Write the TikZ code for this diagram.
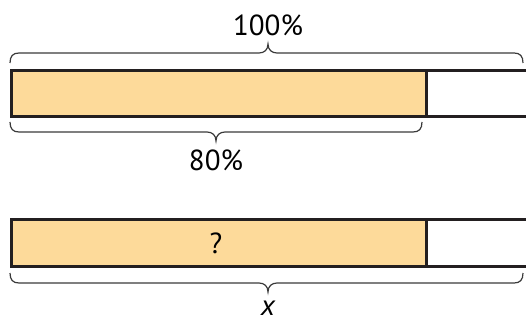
\documentclass[tikz,border=0pt]{standalone}
\usepackage{fontspec}
\setmainfont{PT Sans}
\definecolor{barfill}{HTML}{FDDA9A}
\definecolor{ink}{HTML}{231F20}
\definecolor{bracec}{HTML}{3A3A3A}
\begin{document}
\begin{tikzpicture}[x=1pt,y=-1pt,
  fillbar/.style={draw=ink, line width=2.6pt, fill=barfill, rectangle, inner sep=0pt, anchor=north west},
  emptybar/.style={draw=ink, line width=2.6pt, fill=white, rectangle, inner sep=0pt, anchor=north west},
  bracestyle/.style={draw=bracec, line width=1.2pt},
  lab/.style={font=\fontsize{29}{32}\selectfont, inner sep=0pt}]
\useasboundingbox (0,0) rectangle (526,320);
% top bar
\node[emptybar, minimum width=160pt, minimum height=46pt] (e1) at (425,69) {};
\node[fillbar, minimum width=415pt, minimum height=46pt] (f1) at (10,69) {};
% bottom bar
\node[emptybar, minimum width=160pt, minimum height=47pt] (e2) at (425,218) {};
\node[fillbar, minimum width=415pt, minimum height=47pt] (f2) at (10,218) {};
% labels
\node[lab] (t100) at (268,25) {100\%};
\node[lab] (t80) at (216,160) {80\%};
\node[lab] (tq) at (216,243) {?};
\node[lab, anchor=base] (tx) at (268,315) {\itshape x};
% top brace
\draw[bracestyle] (10,63) .. controls (10,56) and (13,53) .. (19,53) -- (259,53)
  .. controls (264,53) and (268,50) .. (268,44)
  .. controls (268,50) and (272,53) .. (277,53) -- (514,53)
  .. controls (520,53) and (523,56) .. (523,63);
% middle brace
\draw[bracestyle] (10,122) .. controls (10,129) and (13,132) .. (19,132) -- (207,132)
  .. controls (212,132) and (216,135) .. (216,141)
  .. controls (216,135) and (220,132) .. (225,132) -- (413,132)
  .. controls (419,132) and (422,129) .. (422,122);
% bottom brace
\draw[bracestyle] (10,273) .. controls (10,280) and (13,283) .. (19,283) -- (259,283)
  .. controls (264,283) and (268,286) .. (268,292)
  .. controls (268,286) and (272,283) .. (277,283) -- (514,283)
  .. controls (520,283) and (523,280) .. (523,273);
\end{tikzpicture}
\end{document}
